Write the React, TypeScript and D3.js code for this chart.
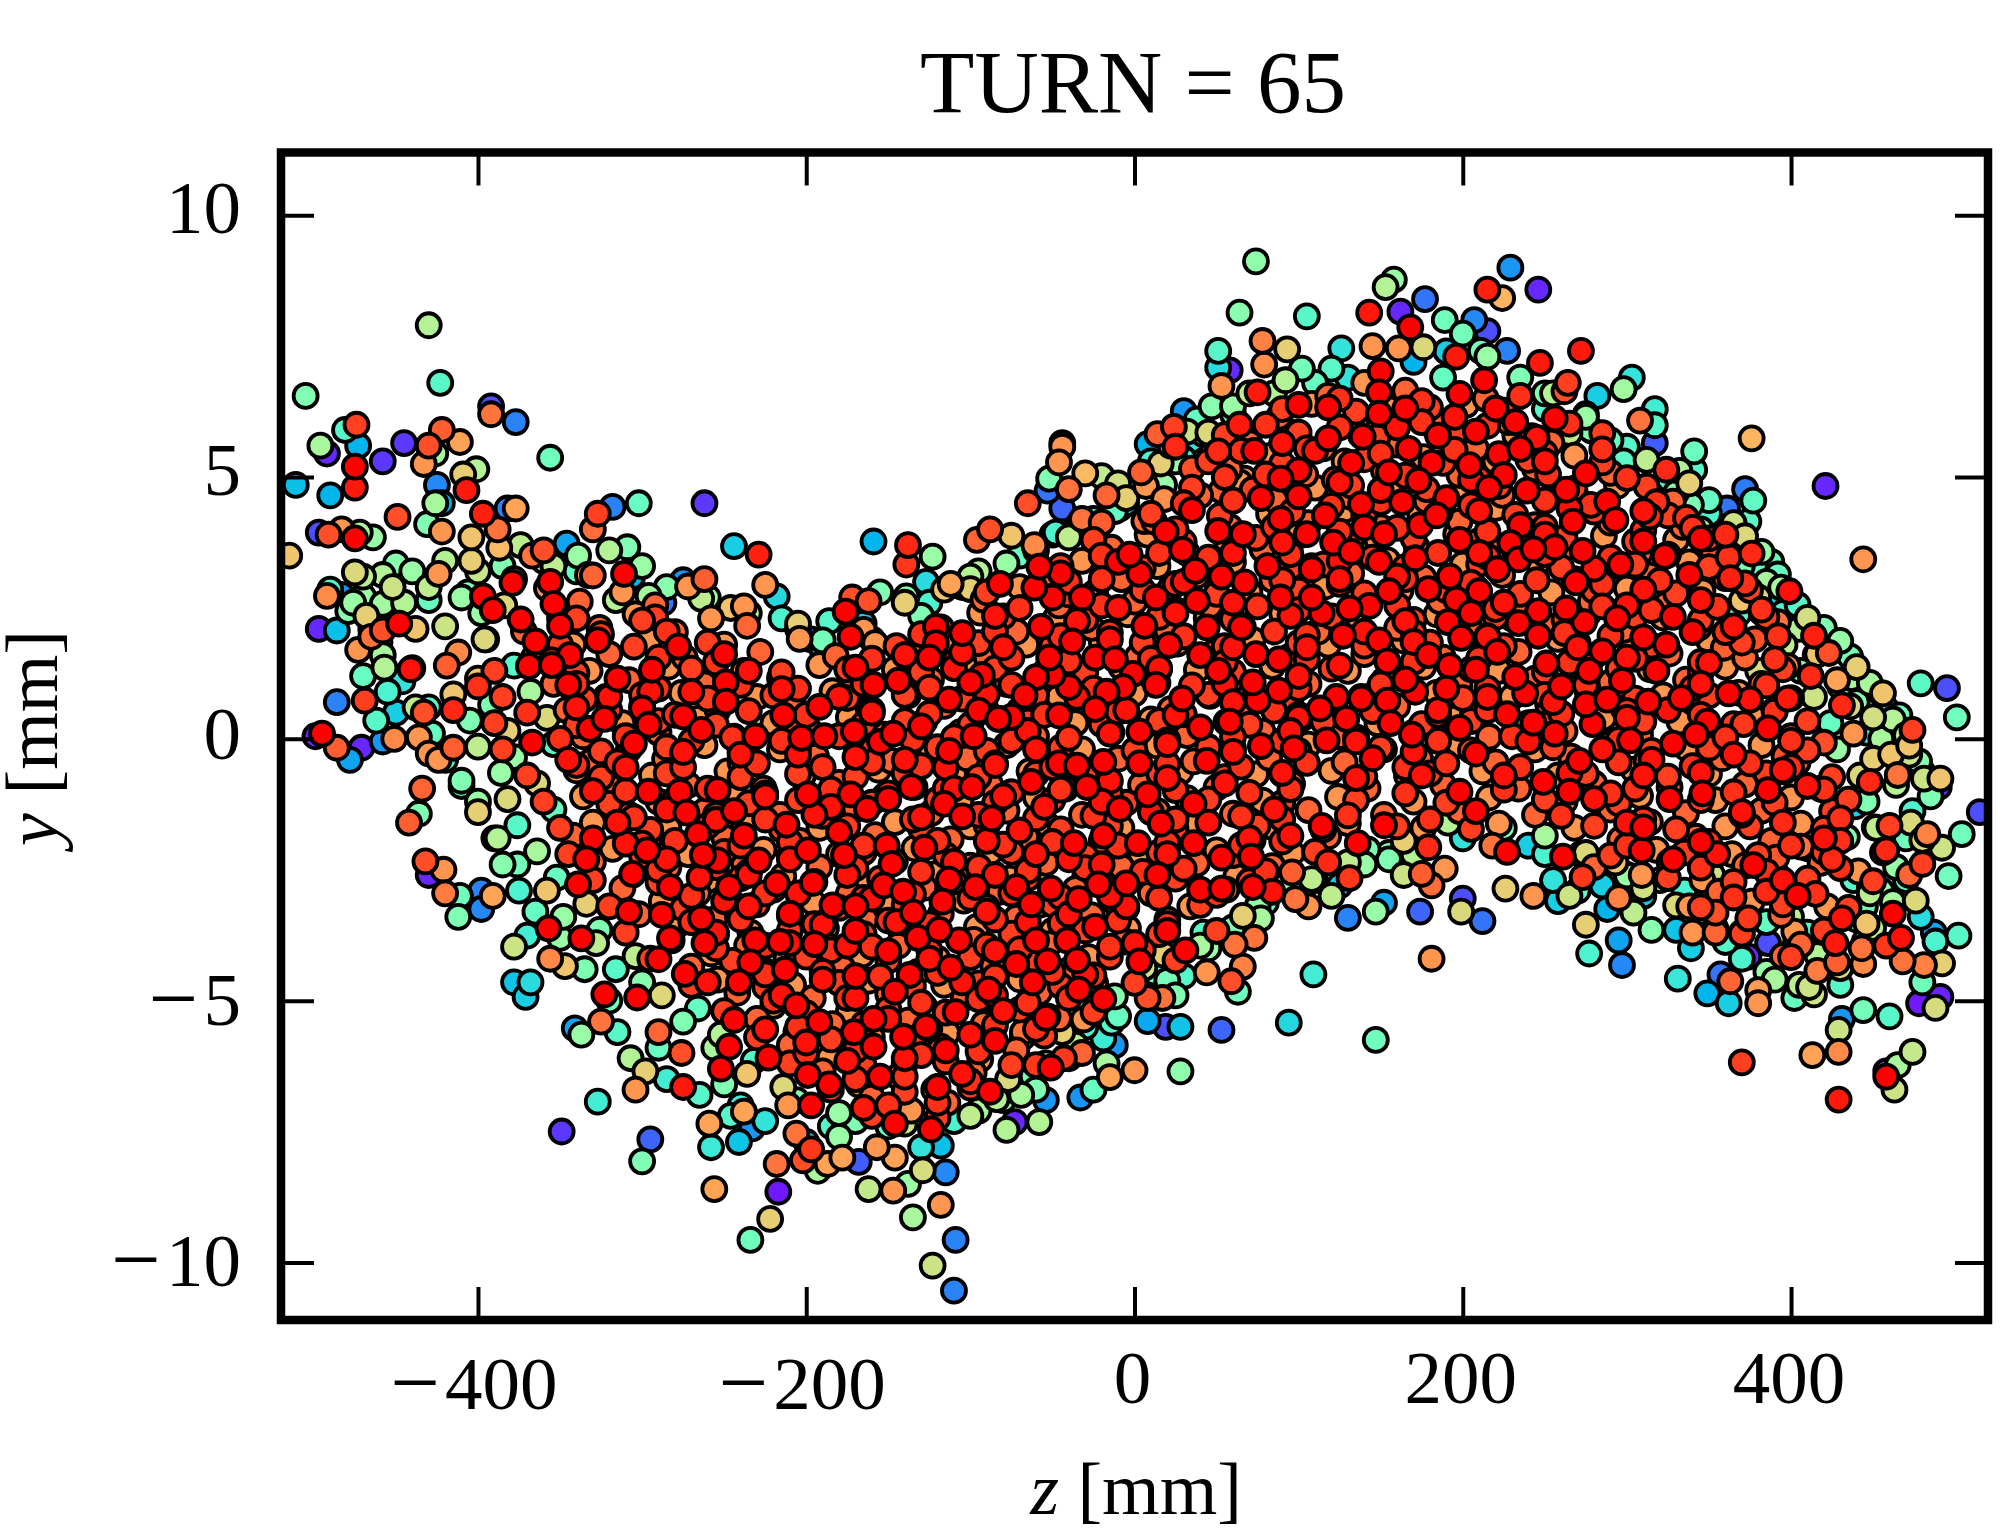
import * as d3 from "d3";
import { useEffect, useRef } from "react";

const zTicks = [-400, -200, 0, 200, 400];
const yTicks = [-10, -5, 0, 5, 10];
const titleText = "TURN = 65";

// z [mm], y [mm], colour value - points that can be told apart at the edge of the cloud
const leftEdge = [
	-430,7.9,.6, -423,6.8,.42, -505,6.55,.5, -392,6.35,.1, -392,6.2,.85, -377,6.05,.17, -356,5.37,.47,
	-474,6.0,.92, -481,5.9,.42, -473,5.6,.25, -496,5.6,.58, -492,5.45,.05, -475,5.2,1, -458,5.3,.07,
	-445,5.65,.07, -430,5.6,.9, -422,5.9,.88, -426,5.45,.57, -411,5.67,.78, -433,5.25,.8, -401,5.15,.6,
	-409,5.05,.7, -426,4.5,.58, -407,4.75,.97, -511,4.85,.27, -490,4.65,.25, -475,4.8,.97, -422,4.5,.25,
	-425,4.85,.18, -382,4.4,.17, -377,4.4,.78, -515,3.5,.72, -497,3.94,.1, -491,3.9,.9, -483,4.0,.8,
	-475,3.83,1, -472,3.94,.58, -464,3.85,.55, -449,4.24,.9, -431,4.1,.5, -422,3.96,.8, -404,3.85,.72,
	-388,4.0,.85, -397,4.3,.96, -374,3.7,.62, -387,3.65,.74, -346,3.73,.22, -360,3.6,.9, -367,3.5,.85,
	-339,3.5,.55, -330,4.0,.86, -327,4.3,.92, -318,4.43,.17, -302,4.5,.45, -262,4.5,.07, -309,3.66,.5,
	-244,3.68,.3, -229,3.52,.96, -159,3.77,.25, -138,3.7,.95, -139,3.33,.93, -123,3.48,.55, -88,4.0,.9,
	-96,3.8,.87, -333,3.13,.8, -311,3.15,1, -306,3.1,.25, -356,3.0,1, -275,3.03,.2, -262,3.05,.88,
	-225,2.94,.8, -218,2.72,.32, -264,2.68,.62, -238,2.53,.8, -246,2.5,.72, -296,2.73,.57, -316,2.65,.6,
	-292,2.32,.92, -287,2.6,.15, -205,2.2,.7, -186,2.25,.42, -197,1.9,.2, -190,1.88,.48, -176,2.43,1,
	-172,2.7,.9, -162,2.63,.9, -155,2.8,.5, -139,2.72,.52, -127,3.0,.33, -112,2.96,.78, -100,2.86,.7,
	-492,2.73,.82, -483,2.75,.2, -470,2.72,.55, -475,3.18,.68, -458,3.13,.6, -458,2.58,.57, -479,2.44,.52,
	-497,2.1,.05, -486,2.07,.27, -448,2.2,1, -458,2.07,.9, -438,2.1,.72, -473,1.7,.8, -465,1.95,.85,
	-457,1.36,.6, -441,1.33,.98, -419,1.4,.88, -486,.7,.17, -469,.73,.92, -462,.35,.42, -450,.5,.3,
	-433,.5,.9, -415,.55,.95, -495,.1,1, -499,.05,.05, -486,-.17,.88, -471,-.17,.05, -478,-.4,.22,
	-458,-.05,.2, -451,0,.82, -436,.03,.8, -415,-.17,.88, -430,-.28,.8
];

const bottomEdge = [
	-434,-.95,.87, -442,-1.6,.88, -436,-1.43,.5, -432,-2.34,.9, -421,-2.5,.8, -430,-2.6,.05, -420,-2.95,.84,
	-411,-3.0,.47, -412,-3.4,.5, -398,-2.9,.17, -398,-3.25,.18, -391,-3.0,.78, -378,-3.97,.65, -356,-4.2,.82,
	-347,-4.34,.72, -370,-3.76,.38, -378,-4.65,.28, -368,-4.65,.33, -371,-4.93,.3, -341,-5.53,.22, -337,-5.65,.55,
	-325,-5.4,.85, -307,-6.1,.6, -298,-6.35,.7, -304,-6.7,.8, -327,-6.93,.38, -349,-7.5,.07, -295,-7.65,.13,
	-300,-8.07,.5, -275,-6.65,.97, -276,-6.0,.9, -290,-5.6,.87, -259,-7.35,.78, -258,-7.8,.37, -238,-7.12,.78,
	-233,-7.44,.2, -241,-7.7,.28, -256,-8.6,.78, -217,-8.65,.03, -222,-9.17,.7, -234,-9.57,.47, -218,-8.12,.85,
	-206,-7.54,.85, -197,-7.84,.93, -202,-8.05,.9, -187,-8.12,.78, -193,-8.25,.58, -168,-8.08,.12, -178,-8.0,.78,
	-162,-8.6,.63, -147,-8.63,.8, -138,-8.5,.55, -129,-8.24,.67, -115,-8.28,.18, -118,-7.77,.27, -118,-8.9,.8,
	-135,-9.14,.58, -109,-9.57,.17, -123,-10.06,.65, -110,-10.54,.17, -124,-7.46,1, -146,-7.35,1, -157,-7.8,.8,
	-146,-8.0,.78, -165,-7.05,.97, -197,-7.0,1, -211,-7.0,.8, -252,-6.3,1, -246,-7.2,.42, -78,-7.47,.6,
	-73,-7.32,.05, -58,-7.32,.6, -69,-6.8,.58, -54,-6.9,.2, -33,-6.85,.2, -25,-6.7,.45, -15,-6.46,.78,
	-17,-6.2,.58, 0,-6.33,.8, 28,-6.35,.53, -51,-6.28,1, -60,-6.23,.93, -43,-6.1,.93, -77,-6.5,.68,
	-32,-6.0,.87, -12,-5.85,.2, -19,-5.72,.37, -31,-5.36,.8, -44,-5.6,.7, -68,-5.6,.85, -53,-5.3,.95,
	8,-5.39,.23, 19,-5.5,.1, 28,-5.5,.28, 53,-5.56,.13, 94,-5.42,.32, 147,-5.75,.47, 109,-4.5,.38,
	8,-4.95,.9, 17,-4.95,.85, 63,-4.83,.47, 59,-4.63,.9, 66,-4.35,.83, 44,-4.46,.8, 30,-4.53,.42,
	12,-4.46,.47, 73,-3.8,.85, 77,-3.43,.58, 61,-3.93,.85, 181,-4.2,.8, 130,-3.42,.17, 147,-3.3,.55,
	152,-3.13,.22, 174,-3.3,.13, 199,-3.3,.68, 200,-3.05,.1, 212,-3.48,.15, 226,-2.86,.7, 243,-3.0,.8,
	265,-3.0,.65, 258,-3.1,.3, 106,-3.2,.8, 120,-3.0,.62, 98,-3.06,.85, 84,-2.92,.98, 131,-2.66,.93,
	118,-2.36,.95, 96,-2.55,.88, 164,-2.6,.65, 175,-2.58,.88, 181,-2.8,.86, 189,-2.48,.8, 155,-2.18,.5,
	179,-2.07,.95, 191,-1.6,.6, 227,-2.16,1, 218,-2.04,.85, 240,-2.04,.3, 261,-2.25,1, 275,-2.18,.68,
	273,-2.64,.93, 255,-2.7,.35
];

const rightEdge = [
	275,-3.55,.7, 277,-4.1,.4, 295,-3.85,.22, 297,-4.32,.18, 288,-3.25,.25, 295,-3.04,.83, 304,-3.32,.62,
	315,-3.65,.52, 310,-3.0,.28, 330,-3.65,.28, 340,-3.7,.8, 338,-3.2,.8, 354,-3.32,.9, 354,-3.7,.87,
	339,-4.0,.3, 331,-4.58,.36, 357,-4.5,.15, 363,-4.63,.87, 349,-4.86,.25, 362,-5.05,.3, 380,-5.05,.8,
	380,-4.8,.79, 390,-4.6,.58, 402,-4.95,.45, 414,-4.88,.65, 411,-4.74,.65, 430,-4.7,.42, 416,-4.43,.84,
	428,-4.27,.88, 427,-3.9,.97, 443,-4.0,.85, 444,-4.3,.82, 467,-3.8,.98, 458,-3.95,.93, 468,-4.25,.85,
	481,-4.32,.83, 492,-4.29,.7, 480,-4.65,.47, 502,-3.76,.42, 488,-3.87,.4, 487,-3.7,.22, 476,-3.09,.68,
	479,-3.4,.33, 462,-3.34,1, 446,-3.53,.72, 431,-3.43,.98, 404,-3.0,1, 385,-2.92,.95, 374,-3.43,.93,
	386,-3.9,.1, 374,-4.16,.05, 395,-4.15,.87, 403,-3.9,.4, 478,-5.05,.03, 491,-4.93,.04, 488,-5.14,.67,
	444,-5.18,.48, 460,-5.3,.42, 431,-5.35,.2, 429,-5.56,.65, 413,-6.04,.78, 429,-5.98,.82, 370,-6.18,.92,
	429,-6.89,.97, 458,-6.35,.1, 458,-6.45,1, 465,-6.23,.58, 474,-5.98,.63, 463,-6.7,.65, 496,-2.62,.47,
	504,-1.82,.47, 515,-1.4,.1, 492,-2.08,.65, 483,-1.82,.83, 473,-1.6,.68, 480,-2.39,.92, 472,-2.6,.87,
	448,-2.83,.6, 441,-2.53,.8, 425,-2.3,.95, 458,-2.13,.95, 451,-1.69,.45, 395,-1.6,.95, 406,-2.06,.85,
	391,-2.27,.89, 377,-2.41,1, 352,-2.6,.65, 352,-2.99,.7, 328,-2.3,1, 309,-2.13,1, 309,-2.6,.8,
	293,-2.36,.72, 310,-1.69,1, 345,-1.97,1, 481,-.76,.65, 491,-.76,.72, 490,-.92,.05, 465,-.69,.85,
	448,-.82,.95, 439,-1.29,.3, 425,-1.38,.92
];

const topEdge = [
	74,9.12,.53, 64,8.14,.52, 105,8.07,.42, 158,8.77,.55, 153,8.63,.6, 143,8.14,.97, 162,8.16,.05,
	177,8.4,.15, 168,7.86,1, 189,8.0,.47, 200,7.74,.48, 207,8.0,.18, 215,7.79,.1, 229,9.0,.2, 246,8.58,.05,
	215,8.58,.96, 224,8.42,.75, 227,7.41,.17, 211,7.41,.48, 196,7.3,.97, 176,7.48,.68, 161,7.46,.8,
	145,7.5,.8, 126,7.46,.35, 120,7.07,.43, 102,7.07,.48, 93,7.44,.7, 78,7.6,.83, 79,7.15,.81, 51,7.41,.42,
	51,7.09,.33, 58,7.04,.05, 53,6.74,.8, 30,6.26,.2, 47,6.35,.52, 272,7.41,.97, 247,7.18,.97, 303,6.9,.35,
	298,6.68,.57, 282,6.55,.3, 264,6.8,.92, 262,6.64,.9, 317,6.3,.38, 308,6.08,.85, 317,5.99,.42, 317,5.65,.12,
	279,5.88,.04, 265,5.84,.63, 376,5.74,.75, 341,5.49,.46, 341,5.14,.42, 298,5.3,.43, 324,5.14,.95,
	372,4.77,.16, 377,4.55,.44, 374,4.15,.43, 361,4.4,.15, 421,4.83,.05, 444,3.43,.8, 328,4.53,.87,
	339,4.47,.5, 336,4.22,.94, 360,3.9,.95, 345,3.82,1, 314,4.25,.95, 376,3.54,.95, 388,3.38,.45, 363,3.07,.96,
	399,2.82,.98, 380,2.7,.67, 382,2.42,.72, 394,2.63,.3, 392,2.23,.85, 397,2.2,.15, 414,1.97,.96, 423,1.64,.9,
	398,1.39,.82, 380,1.3,.67, 378,1.9,.9, 359,1.74,.88, 412,1.2,.95, 437,1.16,.58, 456,.87,.72, 479,1.06,.43,
	495,.97,.1, 501,.41,.47, 450,.41,.66, 466,.45,.47, 474,.17,.92, 431,.64,.95, 438,.1,.8, 461,-.3,.72,
	472,-.3,.65, 398,.77,.97, 371,.28,.93, 386,.2,1, 420,-.07,.9, 396,-.33,.9, -44,5.58,.8, -44,5.65,.1,
	-46,5.28,.8, -52,4.97,.5, -65,4.5,.9, -30,5.07,.74, -20,5.02,.62, -10,4.88,.66, -40,4.77,.85, -53,4.74,.15,
	-44,4.4,.13, -17,4.65,.87, -32,4.2,.85, -20,4.13,.88, -9,4.4,.28, -75,3.88,.72, -61,3.7,.82, -48,3.94,.4,
	6,4.16,.86, 4,5.09,.88, 7,4.83,.8, 16,5.26,.7, 18,4.58,.81, 14,5.82,.88, 24,5.96,.92, 25,5.58,.95,
	8,5.63,.25, 32,5.87,.65, 42,5.82,.4, 51,5.49,.95, 64,6.0,.97, 75,6.62,.97, 73,5.5,1, 35,5.16,.9,
	57,5.2,.8, 67,4.97,.8, 53,4.74,.87
];

const fringePoints = [
	-470,1.2,.45, -455,.9,.4, -445,2.6,.6, -440,3.2,.55, -430,2.9,.62, -420,3.4,.6, -410,2.7,.55, -400,3.2,.64,
	-395,1.9,.58, -385,3.3,.5, -430,.6,.42, -420,-.4,.4, -410,-.8,.5, -400,-1.2,.55, -390,-1.9,.5, -385,-2.4,.52,
	-375,-2.9,.4, -365,-3.3,.45, -350,-3.8,.55, -335,-4.4,.5, -320,-5,.48, -315,-5.6,.42, -290,-5.9,.45,
	-285,-6.5,.38, -265,-6.8,.42, -250,-6.6,.5, -240,-7,.38, -225,-7.3,.35, -200,-7.7,.3, -180,-7.6,.55,
	-170,-7.3,.5, -150,-7.4,.45, -130,-7.8,.35, -110,-7.3,.4, -95,-7.1,.58, -80,-6.9,.55, -60,-6.7,.5,
	-40,-6.1,.52, -30,-5.5,.4, -10,-5.3,.45, 10,-4.9,.45, 25,-4.9,.5, 45,-4,.55, 60,-3.6,.5, 75,-3.2,.55,
	95,-2.9,.55, 110,-2.7,.5, 125,-2.8,.3, 140,-2.4,.55, 155,-2.3,.5, 170,-2.2,.6, 200,-1.9,.35, 225,-1.7,.5,
	250,-2.2,.4, 270,-2.9,.45, 285,-2.8,.3, 300,-2.6,.5, 320,-2.7,.55, 335,-2.9,.4, 345,-3.3,.42, 370,-3.7,.3,
	385,-3.5,.45, 400,-3.4,.62, 410,-3.7,.42, 420,-4.1,.55, 445,-3.2,.48, 455,-2.9,.55, 470,-2.7,.42,
	485,-1.1,.5, 470,-1.9,.47, 465,-.4,.35, 455,0,.58, 440,.7,.5, 430,1,.55, 415,1.6,.5, 405,2.1,.6, 395,2.4,.4,
	385,3,.58, 370,3.3,.5, 355,3.6,.6, 345,4,.62, 330,4.7,.5, 325,4.9,.4, 300,5.4,.42, 290,5.7,.45, 275,6.2,.55,
	255,6.6,.6, 235,6.9,.5, 215,7.3,.55, 190,7.4,.3, 170,7.2,.25, 130,6.9,.35, 110,6.8,.45, 85,6.6,.6, 60,6.2,.45,
	35,5.7,.35, 25,5.3,.55, 10,5.3,.4, -5,4.5,.3, -25,4.2,.42, -50,3.9,.2, -70,3.5,.45, -95,3.2,.6, -105,2.9,.35,
	-125,2.6,.4, -165,2.2,.3, -160,1.9,.55, -190,1.7,.25, -205,2.1,.5, -215,2.3,.4, -235,2.4,.6, -260,2.7,.55,
	-285,2.9,.52, -300,3.3,.55, -320,3.6,.6, -340,3.2,.45, -360,3.4,.5
];

// the outer band of the cloud, where green, teal and yellow still show
const outerBand = [
	70,6.6,.62, 250,6.6,.5, 38,6.1,.45, 275,6.15,.55, 22,5.6,.72, 300,5.58,.42, 12,5.1,.4, 332,5.12,.6, -5,4.6,.7,
	350,4.56,.45, -34,4.1,.5, 365,4.12,.65, -60,3.6,.72, 382,3.57,.55, -470,3.1,.62, -424,3.15,.8, -378,3.05,.72,
	392,3.14,.45, -100,3.1,.6, -476,2.6,.55, -430,2.65,.45, -384,2.55,.68, -140,2.6,.7, 404,2.56,.42, 370,2.64,.72,
	-465,2.1,.38, -420,2.15,.65, -165,2.08,.8, 420,2.12,.5, 390,2.05,.66, -458,1.6,.58, -412,1.65,.82, 436,1.57,.48,
	416,1.62,.72, -446,1.1,.35, -400,1.15,.72, 448,1.07,.58, 428,1.12,.78, -438,.6,.62, -392,.65,.5, 458,.57,.4,
	436,.62,.68, -428,.1,.45, -382,.15,.7, 470,.07,.62, 446,.12,.38, -424,-.4,.8, -378,-.35,.55, 478,-.43,.52,
	450,-.38,.7, -410,-.9,.42, -364,-.85,.68, 464,-.88,.6, -400,-1.4,.7, -354,-1.35,.45, 474,-1.38,.4, 428,-1.45,.66,
	-388,-1.9,.6, 480,-1.93,.68, 434,-1.88,.5, -376,-2.4,.48, 464,-2.45,.55, 164,-1.95,.7, 130,-2.36,.62, 250,-1.85,.58,
	-358,-2.9,.72, 448,-2.95,.62, 102,-2.93,.52, 310,-2.85,.66, -348,-3.4,.55, 440,-3.45,.45, 66,-3.38,.7, 348,-3.42,.38,
	-328,-3.9,.62, 445,-3.86,.5, 40,-3.95,.58, 360,-3.88,.42, -316,-4.4,.42, 430,-4.38,.68, 385,-4.45,.55, 6,-4.37,.66,
	-288,-4.9,.68, -12,-4.92,.52, -275,-5.4,.5, -14,-5.42,.42, -256,-5.9,.58, -36,-5.84,.62, -236,-6.4,.72, -62,-6.45,.48,
	-206,-6.9,.5, -84,-6.88,.6, -185,-7.4,.42, -140,-7.35,.65,
	92,6.85,.6, 188,6.9,.45, 60,6.35,.55, 250,6.3,.42, 45,5.85,.68, 278,5.9,.5, 30,5.35,.38, 312,5.33,.62, 18,4.85,.55,
	338,4.88,.7, -12,4.35,.45, 350,4.3,.4, -40,3.85,.62, 372,3.87,.68, -450,3.35,.52, -404,3.4,.7, -354,3.3,.62,
	-78,3.35,.55, 378,3.32,.45, -490,2.85,.4, -452,2.9,.65, -406,2.8,.5, 394,2.89,.58, -116,2.85,.72, -468,2.35,.7,
	-398,2.4,.55, -130,2.35,.5, 410,2.31,.66, 368,2.39,.42, -460,1.85,.45, -396,1.9,.68, 430,1.87,.55, 396,1.8,.62,
	-440,1.35,.6, -378,1.4,.42, 440,1.37,.7, 406,1.3,.5, -415,.85,.72, -368,.9,.58, 455,.87,.42, 414,.8,.65, -405,.35,.5,
	-358,.4,.68, 462,.37,.6, 424,.3,.45, -400,-.15,.62, -354,-.1,.42, 472,-.13,.72, 428,-.2,.55, -386,-.65,.55,
	480,-.63,.45, 442,-.7,.68, -382,-1.15,.68, 446,-1.2,.5, -376,-1.65,.42, 452,-1.7,.62, -364,-2.15,.58, 456,-2.17,.72,
	142,-2.11,.5, 272,-2.2,.66, -352,-2.65,.45, 438,-2.7,.42, 108,-2.68,.62, 300,-2.61,.55, -334,-3.15,.7, 462,-3.12,.58,
	80,-3.13,.45, 330,-3.18,.68, -326,-3.65,.5, 450,-3.61,.62, 42,-3.7,.42, 354,-3.63,.55, -304,-4.15,.62, 18,-4.12,.7,
	370,-4.2,.4, 416,-4.13,.6, -300,-4.65,.52, 20,-4.62,.48, 405,-4.7,.62, -266,-5.15,.45, -36,-5.09,.68, -252,-5.65,.6,
	-68,-5.7,.5, -232,-6.15,.42, -54,-6.2,.58, -214,-6.65,.68, -78,-6.62,.42, -180,-7.15,.55, -100,-7.2,.62
];

// z, y - orange body of the cloud, colour value .87
const orangeBody = [
	118,6.55, 165,6.65, 214,6.5,
	88,6.15, 135,6.05, 182,6.12, 228,6.05,
	70,5.65, 115,5.55, 160,5.62, 208,5.55, 254,5.66,
	58,5.15, 104,5.05, 152,5.12, 198,5.04, 244,5.16, 290,5.08,
	40,4.65, 86,4.55, 132,4.62, 178,4.55, 224,4.66, 270,4.58, 316,4.62,
	12,4.15, 58,4.05, 106,4.12, 150,4.04, 198,4.15, 244,4.08, 290,4.13, 334,4.05,
	-14,3.65, 32,3.55, 78,3.62, 124,3.55, 172,3.66, 218,3.58, 262,3.63, 308,3.55, 352,3.62,
	-330,3.12, -54,3.15, -8,3.05, 38,3.12, 84,3.04, 132,3.16, 176,3.08, 224,3.13, 268,3.05, 314,3.12, 360,3.07,
	-338,2.62, -292,2.55, -92,2.66, -46,2.55, 0,2.62, 46,2.55, 94,2.65, 140,2.58, 186,2.63, 232,2.55, 278,2.62, 324,2.57,
	-372,2.05, -326,2.12, -280,2.04, -236,2.16, -118,2.13, -72,2.05, -26,2.12, 20,2.07, 66,2.14, 112,2.05, 160,2.12,
	206,2.04, 252,2.15, 298,2.08, 344,2.13,
	-366,1.55, -320,1.62, -274,1.55, -228,1.66, -182,1.58, -136,1.63, -90,1.55, -44,1.62, 2,1.57, 48,1.64, 94,1.56,
	140,1.62, 188,1.55, 234,1.66, 280,1.58, 326,1.63, 372,1.55,
	-354,1.05, -308,1.12, -262,1.04, -216,1.16, -170,1.08, -124,1.13, -78,1.05, -32,1.12, 14,1.07, 60,1.14, 106,1.05,
	152,1.12, 198,1.04, 244,1.15, 290,1.08, 336,1.13, 382,1.05,
	-346,.55, -300,.62, -254,.55, -208,.66, -162,.58, -116,.63, -70,.55, -24,.62, 22,.57, 68,.64, 114,.55, 160,.62,
	206,.55, 252,.66, 298,.58, 344,.63, 390,.55,
	-336,.05, -290,.12, -244,.04, -198,.16, -152,.08, -106,.13, -60,.05, -14,.12, 32,.07, 78,.14, 124,.05, 170,.12,
	216,.04, 262,.15, 308,.08, 354,.13, 400,.05,
	-332,-.45, -286,-.38, -240,-.45, -194,-.34, -148,-.42, -102,-.37, -56,-.45, -10,-.38, 36,-.43, 82,-.36, 128,-.45,
	174,-.38, 220,-.45, 266,-.34, 312,-.42, 358,-.37, 404,-.45,
	-318,-.95, -272,-.88, -226,-.95, -180,-.84, -134,-.92, -88,-.87, -42,-.95, 4,-.88, 50,-.93, 96,-.86, 142,-.95,
	188,-.88, 234,-.95, 280,-.85, 326,-.92, 372,-.87, 418,-.95,
	-308,-1.45, -262,-1.38, -216,-1.45, -170,-1.34, -124,-1.42, -78,-1.37, -32,-1.45, 14,-1.38, 60,-1.43, 106,-1.36,
	152,-1.45, 198,-1.38, 244,-1.45, 290,-1.35, 336,-1.42, 382,-1.37,
	-342,-1.85, -296,-1.95, -250,-1.88, -204,-1.95, -158,-1.84, -112,-1.92, -66,-1.87, -20,-1.95, 26,-1.88, 72,-1.93,
	118,-1.86, 296,-1.92, 342,-1.87, 388,-1.95,
	-330,-2.35, -284,-2.45, -238,-2.38, -192,-2.45, -146,-2.34, -100,-2.42, -54,-2.37, -8,-2.45, 38,-2.38, 84,-2.43,
	280,-2.45, 326,-2.35, 372,-2.42, 418,-2.37,
	-312,-2.85, -266,-2.95, -220,-2.88, -174,-2.95, -128,-2.84, -82,-2.92, -36,-2.87, 10,-2.95, 56,-2.88, 356,-2.92,
	402,-2.87,
	-302,-3.35, -256,-3.45, -210,-3.38, -164,-3.45, -118,-3.34, -72,-3.42, -26,-3.37, 20,-3.45, 394,-3.36,
	-282,-3.85, -236,-3.95, -190,-3.88, -144,-3.95, -98,-3.84, -52,-3.92, -6,-3.87, 406,-3.93,
	-270,-4.35, -224,-4.45, -178,-4.38, -132,-4.45, -86,-4.34, -40,-4.42,
	-242,-4.85, -196,-4.95, -150,-4.88, -104,-4.95, -58,-4.84,
	-230,-5.35, -184,-5.45, -138,-5.38, -92,-5.45, -46,-5.34,
	-210,-5.85, -164,-5.95, -118,-5.88, -72,-5.95,
	-190,-6.35, -144,-6.45, -98,-6.38,
	-160,-6.85, -114,-6.95
];

// z, y - pale orange points between them, colour value .8
const paleBody = [
	140,6.8,
	108,6.4, 155,6.3, 202,6.38,
	92,5.9, 138,5.8, 184,5.88, 232,5.8,
	82,5.4, 128,5.3, 176,5.38, 220,5.3, 268,5.41,
	64,4.9, 110,4.8, 156,4.88, 202,4.8, 248,4.91, 294,4.83,
	34,4.4, 82,4.3, 128,4.38, 174,4.3, 220,4.41, 268,4.33, 312,4.38,
	8,3.9, 56,3.8, 100,3.88, 148,3.8, 196,3.91, 240,3.83, 286,3.88, 330,3.8,
	-32,3.4, 14,3.3, 60,3.38, 108,3.3, 154,3.41, 200,3.33, 246,3.38, 292,3.3, 338,3.37,
	-358,2.88, -312,2.8, -272,2.91, -70,2.9, -24,2.8, 22,2.88, 70,2.8, 116,2.91, 162,2.83, 208,2.88, 254,2.8, 300,2.87, 346,2.82,
	-350,2.3, -304,2.38, -258,2.3, -94,2.41, -48,2.3, -4,2.38, 44,2.3, 90,2.4, 136,2.33, 184,2.38, 230,2.3, 276,2.37, 322,2.32,
	-342,1.8, -296,1.88, -250,1.8, -204,1.91, -158,1.83, -112,1.88, -66,1.8, -20,1.87, 26,1.82, 72,1.89, 118,1.8,
	164,1.88, 212,1.8, 258,1.91, 304,1.83, 350,1.88,
	-332,1.3, -284,1.38, -238,1.3, -192,1.41, -146,1.33, -100,1.38, -54,1.3, -8,1.37, 38,1.32, 84,1.39, 130,1.3,
	176,1.38, 222,1.3, 268,1.41, 314,1.33, 360,1.38,
	-322,.8, -276,.88, -230,.8, -184,.91, -138,.83, -92,.88, -46,.8, 0,.87, 46,.82, 92,.89, 138,.8, 184,.88, 230,.8,
	276,.91, 322,.83, 368,.88,
	-312,.3, -266,.38, -220,.3, -174,.41, -128,.33, -82,.38, -36,.3, 10,.37, 56,.32, 102,.39, 148,.3, 194,.38, 240,.3,
	286,.41, 332,.33, 378,.38,
	-308,-.2, -262,-.12, -216,-.2, -170,-.09, -124,-.17, -78,-.12, -32,-.2, 14,-.13, 60,-.18, 106,-.11, 152,-.2, 198,-.12,
	244,-.2, 290,-.09, 336,-.17, 382,-.12,
	-340,-.6, -294,-.7, -248,-.62, -202,-.7, -156,-.59, -110,-.67, -64,-.62, -18,-.7, 28,-.63, 74,-.68, 120,-.61, 166,-.7,
	212,-.62, 258,-.7, 304,-.59, 350,-.67, 396,-.62,
	-336,-1.1, -290,-1.2, -244,-1.12, -198,-1.2, -152,-1.09, -106,-1.17, -60,-1.12, -14,-1.2, 32,-1.13, 78,-1.18, 124,-1.11,
	170,-1.2, 216,-1.12, 262,-1.2, 308,-1.09, 354,-1.17, 400,-1.12,
	-330,-1.6, -284,-1.7, -238,-1.62, -192,-1.7, -146,-1.59, -100,-1.67, -54,-1.62, -8,-1.7, 38,-1.63, 84,-1.68, 130,-1.61,
	176,-1.7, 222,-1.62, 268,-1.7, 314,-1.59, 360,-1.67, 406,-1.62,
	-318,-2.1, -272,-2.2, -226,-2.12, -180,-2.2, -134,-2.09, -88,-2.17, -42,-2.12, 4,-2.2, 50,-2.13, 96,-2.18, 318,-2.12,
	364,-2.2, 410,-2.09,
	-306,-2.6, -260,-2.7, -214,-2.62, -168,-2.7, -122,-2.59, -76,-2.67, -30,-2.62, 16,-2.7, 62,-2.63, 346,-2.7, 392,-2.62,
	-288,-3.1, -242,-3.2, -196,-3.12, -150,-3.2, -104,-3.09, -58,-3.17, -12,-3.12, 34,-3.2, 376,-3.11, 422,-3.2,
	-280,-3.6, -234,-3.7, -188,-3.62, -142,-3.7, -96,-3.59, -50,-3.67, -4,-3.62, 402,-3.68,
	-258,-4.1, -212,-4.2, -166,-4.12, -120,-4.2, -74,-4.09, -28,-4.17,
	-254,-4.6, -208,-4.7, -162,-4.62, -116,-4.7, -70,-4.59, -24,-4.67,
	-220,-5.1, -174,-5.2, -128,-5.12, -82,-5.2,
	-206,-5.6, -160,-5.7, -114,-5.62,
	-186,-6.1, -140,-6.2, -94,-6.12,
	-168,-6.6, -122,-6.7,
	-136,-7.1
];

// z, y - darker orange points that close the gaps, colour value .92
const deepBody = [
	90,6.3, 135,6.25, 180,6.33, 225,6.27,
	55,5.8, 100,5.85, 148,5.76, 195,5.83, 242,5.78, 285,5.84,
	45,5.3, 90,5.26, 140,5.34, 188,5.27, 240,5.33, 285,5.28,
	35,4.8, 72,4.76, 132,4.84, 178,4.77, 222,4.83, 268,4.78, 312,4.82,
	10,4.3, 52,4.26, 96,4.34, 140,4.27, 186,4.33, 232,4.28, 280,4.34, 325,4.27,
	-25,3.8, 30,3.76, 74,3.84, 132,3.77, 170,3.83, 210,3.78, 262,3.84, 305,3.77, 350,3.83,
	-45,3.3, 5,3.26, 40,3.34, 95,3.27, 115,3.33, 165,3.28, 210,3.34, 260,3.27, 305,3.33, 350,3.28,
	-90,2.8, -40,2.76, 5,2.84, 50,2.77, 100,2.83, 140,2.78, 190,2.84, 235,2.77, 280,2.83, 330,2.78, 375,2.84,
	-340,2.3, -300,2.26, -80,2.34, -30,2.27, 15,2.33, 60,2.28, 120,2.34, 170,2.27, 220,2.33, 262,2.28, 305,2.34, 345,2.27, 385,2.33,
	-350,1.8, -305,1.76, -260,1.84, -145,1.77, -95,1.83, -50,1.78, 5,1.84, 55,1.77, 100,1.83, 140,1.78, 180,1.84, 225,1.77,
	270,1.83, 315,1.78, 370,1.84,
	-390,1.3, -340,1.26, -270,1.34, -215,1.27, -175,1.33, -130,1.28, -85,1.34, -30,1.27, 15,1.33, 60,1.28, 120,1.34, 160,1.27,
	205,1.33, 250,1.28, 295,1.34, 345,1.27, 395,1.33,
	-385,.8, -335,.76, -300,.84, -260,.77, -220,.83, -175,.78, -140,.84, -105,.77, -60,.83, -10,.78, 45,.84, 95,.77, 145,.83,
	200,.78, 250,.84, 305,.77, 350,.83, 400,.78,
	-390,.3, -340,.26, -290,.34, -255,.27, -210,.33, -165,.28, -140,.34, -100,.27, -65,.33, -20,.28, 15,.34, 70,.27, 115,.33,
	175,.28, 205,.34, 250,.27, 310,.33, 365,.28, 410,.34,
	-385,-.2, -325,-.24, -285,-.16, -240,-.23, -205,-.17, -160,-.22, -120,-.16, -90,-.23, -45,-.17, 0,-.22, 45,-.16, 100,-.23,
	150,-.17, 205,-.22, 255,-.16, 315,-.23, 350,-.17, 410,-.22,
	-370,-.7, -325,-.74, -285,-.66, -240,-.73, -205,-.67, -170,-.72, -140,-.66, -95,-.73, -60,-.67, -30,-.72, 15,-.66, 55,-.73,
	90,-.67, 140,-.72, 180,-.66, 225,-.73, 275,-.67, 325,-.72, 385,-.66, 425,-.73,
	-360,-1.2, -320,-1.24, -280,-1.16, -235,-1.23, -205,-1.17, -160,-1.22, -120,-1.16, -85,-1.23, -50,-1.17, -5,-1.22, 45,-1.16,
	90,-1.23, 135,-1.17, 190,-1.22, 250,-1.16, 295,-1.23, 345,-1.17, 390,-1.22, 435,-1.16,
	-350,-1.7, -295,-1.74, -260,-1.66, -215,-1.73, -175,-1.67, -130,-1.72, -90,-1.66, -45,-1.73, -15,-1.67, 25,-1.72, 75,-1.66,
	115,-1.73, 160,-1.67, 205,-1.72, 280,-1.66, 330,-1.73, 375,-1.67, 420,-1.72, 460,-1.66,
	-345,-2.2, -300,-2.24, -250,-2.16, -210,-2.23, -165,-2.17, -115,-2.22, -75,-2.16, -30,-2.23, 15,-2.17, 60,-2.22, 110,-2.16,
	290,-2.23, 335,-2.17, 380,-2.22, 420,-2.16,
	-330,-2.7, -290,-2.74, -240,-2.66, -195,-2.73, -155,-2.67, -110,-2.72, -65,-2.66, -20,-2.73, 25,-2.67, 70,-2.72, 325,-2.66,
	365,-2.73, 410,-2.67, 450,-2.72,
	-320,-3.2, -275,-3.24, -230,-3.16, -180,-3.23, -140,-3.17, -90,-3.22, -50,-3.16, -5,-3.23, 40,-3.17, 345,-3.22, 395,-3.16, 435,-3.23,
	-310,-3.7, -255,-3.74, -210,-3.66, -165,-3.73, -125,-3.67, -75,-3.72, -30,-3.66, 15,-3.73, 50,-3.67, 370,-3.72, 420,-3.66,
	-295,-4.2, -245,-4.24, -200,-4.16, -150,-4.23, -100,-4.17, -60,-4.22, -15,-4.16, 25,-4.23, 400,-4.17,
	-270,-4.7, -225,-4.74, -180,-4.66, -135,-4.73, -95,-4.67, -45,-4.72, 0,-4.66,
	-250,-5.2, -200,-5.24, -150,-5.16, -115,-5.23, -70,-5.17, -25,-5.22,
	-230,-5.7, -185,-5.74, -130,-5.66, -95,-5.73, -55,-5.67,
	-210,-6.2, -165,-6.24, -115,-6.16, -75,-6.23,
	-185,-6.7, -140,-6.74, -100,-6.66,
	-160,-7.2, -120,-7.24
];

// z, y - orange-red points in the core, colour value .94
const redOrangeCore = [
	125,6.5, 175,6.45, 235,6.55,
	80,6, 125,5.95, 175,6.05, 215,5.98, 265,6.02,
	65,5.5, 105,5.55, 150,5.45, 195,5.52, 250,5.46, 285,5.53,
	55,5, 80,5.05, 122,4.95, 165,5.03, 210,4.96, 252,5.05, 300,4.98,
	30,4.5, 60,4.55, 120,4.45, 150,4.52, 205,4.46, 250,4.55, 278,4.47, 318,4.52,
	25,4, 85,4.05, 125,3.96, 160,4.03, 215,3.96, 250,4.05, 310,3.98, 340,4.03,
	-20,3.5, 15,3.55, 45,3.46, 95,3.53, 145,3.46, 185,3.55, 215,3.48, 250,3.53, 290,3.46, 325,3.52, 362,3.47,
	-40,3, -20,3.05, 25,2.96, 90,3.03, 125,2.96, 165,3.05, 205,2.98, 245,3.03, 285,2.96, 320,3.02, 372,2.97,
	-70,2.5, -20,2.55, 25,2.46, 75,2.53, 100,2.46, 160,2.55, 220,2.48, 285,2.53, 315,2.46, 355,2.52, 382,2.47,
	-325,2, -285,2.05, -130,2, -85,2.05, -45,1.96, -15,2.03, 30,1.96, 85,2.05, 105,1.98, 170,2.03, 215,1.96, 262,2.02,
	290,1.97, 360,2.04, 392,1.96,
	-355,1.5, -290,1.55, -255,1.46, -160,1.53, -110,1.46, -75,1.55, -40,1.48, 10,1.53, 55,1.46, 105,1.52, 170,1.47,
	210,1.54, 265,1.46, 305,1.53, 345,1.47, 390,1.52,
	-400,1, -340,1.05, -290,.96, -240,1.03, -205,.96, -165,1.05, -125,.98, -75,1.03, -25,.96, 35,1.02, 100,.97,
	150,1.04, 215,.96, 275,1.03, 340,.97, 385,1.02,
	-370,.5, -320,.55, -280,.46, -235,.53, -200,.46, -160,.55, -125,.48, -90,.53, -55,.46, -10,.52, 30,.47, 85,.54,
	100,.46, 145,.53, 185,.46, 215,.55, 260,.48, 300,.53, 345,.46, 390,.52,
	-350,0, -310,.05, -270,-.04, -245,.03, -215,-.04, -180,.05, -135,-.02, -110,.03, -75,-.04, -40,.02, 20,-.03,
	60,.04, 90,-.04, 135,.03, 185,-.04, 230,.05, 295,-.02, 360,.03, 400,-.04,
	-340,-.5, -315,-.45, -275,-.54, -230,-.47, -190,-.54, -160,-.45, -130,-.52, -85,-.47, -50,-.54, 20,-.48, 65,-.53,
	105,-.46, 165,-.54, 190,-.47, 235,-.54, 295,-.45, 340,-.52, 375,-.47, 400,-.54,
	-310,-1, -260,-.95, -225,-1.04, -185,-.97, -150,-1.04, -115,-.95, -75,-1.02, -45,-.97, -15,-1.04, 25,-.98,
	70,-1.03, 95,-.96, 165,-1.04, 225,-.97, 290,-1.04, 305,-.95, 365,-1.02, 420,-.97,
	-305,-1.5, -255,-1.45, -225,-1.54, -190,-1.47, -135,-1.54, -95,-1.45, -60,-1.52, -25,-1.47, 25,-1.54, 65,-1.48,
	90,-1.53, 130,-1.46, 180,-1.54, 260,-1.47, 310,-1.54, 370,-1.45, 430,-1.52,
	-300,-2, -280,-1.95, -240,-2.04, -210,-1.97, -165,-2.04, -120,-1.95, -80,-2.02, -50,-1.97, -10,-2.04, 20,-1.98,
	65,-2.03, 90,-1.96, 300,-2.04, 350,-1.97, 400,-2.04, 430,-1.95,
	-290,-2.5, -255,-2.45, -235,-2.54, -170,-2.47, -130,-2.54, -95,-2.45, -65,-2.52, -30,-2.47, 5,-2.54, 30,-2.48,
	80,-2.53, 345,-2.46, 385,-2.54, 430,-2.47,
	-270,-3, -225,-2.95, -165,-3.04, -135,-2.97, -100,-3.04, -75,-2.95, -45,-3.02, -10,-2.97, 15,-3.04, 50,-2.98,
	365,-3.03, 415,-2.96,
	-270,-3.5, -240,-3.45, -195,-3.54, -150,-3.47, -125,-3.54, -85,-3.45, -45,-3.52, -10,-3.47, 20,-3.54,
	-255,-4, -225,-3.95, -185,-4.04, -160,-3.97, -125,-4.04, -90,-3.95, -70,-4.02, -15,-3.97, 5,-4.04,
	-225,-4.5, -190,-4.45, -155,-4.54, -120,-4.47, -85,-4.54, -50,-4.45, -25,-4.52,
	-220,-5, -175,-4.95, -130,-5.04, -95,-4.97, -65,-5.04, -40,-4.95,
	-205,-5.5, -165,-5.45, -125,-5.54, -85,-5.47, -60,-5.54,
	-200,-6, -170,-5.95, -130,-6.04, -95,-5.97,
	-170,-6.5, -140,-6.45, -100,-6.54,
	-150,-7, -120,-6.95
];

// z, y - near-red points between the reds, colour value .98
const nearRed = [
	110,5.5, 160,5.95, 195,6.15, 245,5.75, 90,5.65, 125,4.9, 150,4.75, 205,4.95, 250,5.3, 265,4.4, 310,4.35, 250,3.9,
	210,4.35, 125,3.4, 90,3.75, 60,3.55, 30,3, 60,2.6, 95,2.35, 125,3.05, 160,3.1, 210,3.55, 280,3.25, 310,2.85, 345,2.65,
	365,2.15, 300,2.55, 225,2.6, 165,2.25, 140,2.05, 105,1.75, 60,1.75, 25,2.4, -10,2.5, -15,1.9, -35,2.25, 15,1.35, 55,1.05,
	100,1.2, 125,1.4, 170,1.85, 215,1.95, 270,1.75, 300,1.55, 350,1.45, 345,1.05, 375,.75, 325,.55, 300,.4, 255,.7, 215,.8,
	185,.55, 100,.4, 60,.7, 25,.45, -5,.55, -35,.8, -65,.15, -90,.85, -110,1.35, -140,1.6, -160,.5, -180,.8, -215,.95, -235,1.3,
	-270,.9, -295,.9, -320,.8, -340,.6, -80,1.75, -85,2.35, -105,1.65,
	-15,.1, 20,-.1, 60,-.25, 95,.15, 135,-.05, 170,-.25, 240,-.05, 285,-.2, 315,-.4, 365,-.3, 395,-.6, 345,-.65, 265,-.65, 225,-.7,
	175,-.7, 135,-.75, 90,-.65, 55,-.85, 20,-.75, -15,-.8, -60,-.2, -85,-.5, -115,-.55, -140,-.4, -170,-.35, -205,-.3, -240,-.3,
	-275,-.25, -310,-.55, -345,-.4, -330,-1, -285,-1.35, -255,-1.55, -225,-1.1, -185,-1.3, -130,-1.5, -80,-1.1, -55,-1.3, -20,-1.2,
	10,-1.4, 45,-1.6, 85,-1.35, 95,-1.85, 70,-1.9, 20,-2.2, -20,-2.4, -60,-2.2, -90,-1.95, -110,-2.35, -175,-2.6, -210,-2.3,
	-235,-2.6, -265,-2.65, -310,-2, -90,-3.3, -65,-3.5, -85,-2.6, -40,-3.35, -5,-3.2, -160,-3.05, -205,-2.95, -235,-3.2, -255,-3.7,
	-190,-3.55, -145,-3.5, -175,-3.95, -125,-4.2, -85,-4.05, -105,-4.65, -85,-4.9, -170,-4.95, -190,-4.6, -215,-4.9, -260,-4.65,
	-225,-5.55, -200,-5.8, -175,-6.15, -140,-6.1, -100,-5.65, -80,-5.2, -105,-6.4, -210,-3.9, -250,-3.1, -285,-2.3, -315,-1.6,
	-195,-1.45, -110,-.95, -70,-1.75, -40,-2.3, -15,-3, 0,-3.9, -30,-4.5, -150,-5.35, 310,-.7, 280,-1.15, 370,-1.4, 410,-.9,
	420,-1.9, 355,-2.2, 300,-1.6, 395,-2.7
];

// z, y - the pure red points on top, colour value 1
const redTop = [
	100,6.38, 118,6.33, 150,7.02, 149,6.62, 149,6.21, 165,6.31, 198,6.59, 213,6.85, 220,6.31, 232,6.05, 208,5.87,
	256,6.12, 118,5.74, 139,5.77, 132,5.27, 155,5.09, 167,5.54, 185,5.79, 181,5.27, 204,5.23, 222,5.44, 235,5.54,
	225,5.04, 239,4.74, 263,4.76, 275,5.07, 288,4.53, 293,4.18, 310,3.77, 267,4.15, 235,4.08, 216,4.79, 190,4.6,
	173,4.93, 163,4.52, 138,4.48, 116,4.27, 100,4.63, 77,4.6, 100,5.13, 89,4.97, 35,4.37, 19,3.96, 51,3.97, 66,3.91,
	89,4.2, 105,3.91, 121,3.75, 140,4.04, 152,3.91, 174,4.08, 184,4.27, 198,3.8, 229,3.74, 234,3.43, 256,3.66,
	273,3.59, 296,3.33, 323,3.49, 338,3.13, 328,2.33, 340,2.04, 310,1.94, 324,1.8, 294,2.3, 274,2.23, 246,2.44,
	234,2.21, 246,1.97, 263,2.49, 269,2.99, 243,3.62, 221,3.24, 210,2.82, 196,2.66, 205,2.4, 191,2.23, 199,1.93,
	179,2.86, 155,2.82, 143,2.54, 131,2.49, 114,2.4, 108,2.7, 89,2.7, 67,2.99, 53,3.1, 37,3.21, 13,2.7, 38,2.63,
	3,3.15, -10,3.38, -3,3.52, 29,3.61, 81,3.3, 108,3.24, 132,3.57, 149,3.38, 171,3.45, 192,3.1, 6,2.16, 44,2.13,
	65,2.13, 21,1.79, 40,1.6, 74,1.62, 88,1.52, 127,1.97, 149,1.88, 154,1.48, 179,1.6, 192,1.39, 221,1.66, 251,1.44,
	277,1.3, 285,1.67, 297,1.11, 318,1.3, 260,1, 238,.87, 232,1.18, 208,1.32, 190,.96, 171,.9, 165,1.13, 154,.73,
	138,.77, 123,.8, 113,.58, 88,.92, 75,.73, 72,1.08, 51,1.3, 29,.77, 13,1.03, -1,1.24, -7,.99, -17,.9, -24,1.55,
	-12,1.52, -38,1.86, -57,2.14, -32,2.7, -50,2.7, -61,2.89, -45,3.16, -58,3.29, -82,2.96, -40,.99, -50,1.22,
	-60,1.18, -52,1.55, -67,.83, -46,.45, -75,.42, -24,.57, 3,.14, 40,.22, 58,.33, 129,.38, 156,.3, 169,.08, 198,.21,
	227,.47, 243,.31, 256,.1, 279,.28, 313,.71, 333,.78, 349,.33, 362,.87, 275,.66, 288,.75, 77,-.14, 97,-.18,
	117,-.03, 145,-.37, 208,-.28, 271,-.42, 328,-.09, 342,.08, 302,-.03, -46,-.47, 3,-.47, 44,-.42, -35,-.51, -19,-.44,
	-63,-.82, -29,-.92, 8,-1.06, 36,-1.24, -9,-1.34, 16,-1.62, -19,-1.85, -37,-1.99, 2,-1.99, 36,-1.99, 53,-2.27,
	71,-2.25, 14,-2.6, -5,-2.76, -22,-2.78, -51,-2.86, -72,-2.83, -34,-3.06, 40,-2.88, 53,-2.86, 72,-2.83, -63,-3.16,
	-24,-3.59, -41,-3.85, -60,-3.85, 20,-3.67, 31,-4.04, -35,-4.23, -72,-4.3, -53,-4.25, 3,-4.25, -62,-4.65, -34,-4.79,
	-19,-4.97, -54,-5.33, 114,-1.66, 136,-1.99, 152,-1.65, 198,-1.01, 208,-1.38, 249,-.82, 265,-1.01, 326,-1.15,
	346,-1.04, 386,-.98,
	-397,2.72, -391,2.46, -379,2.98, -374,2.28, -354,2.58, -350,2.16, -365,1.86, -344,1.6, -369,1.39, -355,1.41,
	-345,1.03, -327,1.88, -315,1.15, -294,1.32, -278,1.76, -250,1.62, -249,1.08, -249,.71, -275,.43, -300,.58, -296,.27,
	-332,.19, -305,-.09, -264,.17, -231,.05, -203,.02, -192,.61, -170,1.36, -159,1.03, -144,1.11, -121,2.14, -121,1.83,
	-105,2.02, -125,1.55, -93,1.22, -100,1.08, -95,.54, -83,.38, -214,.45, -171,.14, -155,-.06, -147,.1, -130,.24,
	-113,-.23, -98,.05, -113,.75, -173,1.95, -189,.05, -323,.38, -367,-.07,
	-296,-1.01, -277,-1.01, -254,-.98, -273,-1.41, -244,-1.38, -212,-1.64, -238,-1.85, -266,-1.82, -199,-1.06, -173,-1.06,
	-163,-1.34, -150,-1.15, -136,-.92, -116,-1.24, -99,-.92, -105,-1.48, -87,-1.52, -180,-1.78, -151,-2.04, -128,-2.08,
	-199,-2.13, -177,-2.22, -148,-2.39, -254,-2.32, -229,-2.32, -263,-2.22, -297,-2.13, -330,-1.9, -334,-2.3, -339,-2.78,
	-306,-2.58, -283,-2.83, -247,-2.83, -218,-2.76, -196,-2.75, -113,-2.69, -153,-2.8, -141,-2.92, -97,-2.83, -184,-3.18,
	-170,-3.2, -117,-3.11, -135,-3.32, -308,-3.3, -288,-3.36, -264,-3.43, -210,-3.34, -170,-3.67, -231,-3.85, -216,-3.88,
	-195,-3.92, -132,-3.8, -107,-3.85, -119,-3.65, -150,-4.06, -283,-3.81, -262,-3.9, -337,-3.81, -290,-4.21, -274,-4.49,
	-234,-4.27, -170,-4.53, -137,-4.51, -241,-4.65, -213,-4.41, -303,-4.94, -323,-4.88, -206,-5.09, -146,-4.83, -109,-5.22,
	-127,-5.5, -159,-5.35, -192,-5.41, -244,-5.37, -171,-5.6, -141,-5.69, -85,-5.77, -115,-5.95, -247,-5.88, -223,-6.09,
	-159,-5.88, -186,-6.6, -199,-6.42, -155,-6.45, -120,-6.65, -88,-6.74, -357,-3.62, -112,-4.37, -89,-4.79
];

const tripletPoints = (flat: number[]) =>
	d3.range(0, flat.length, 3).map((i) => ({ z: flat[i], y: flat[i + 1], c: flat[i + 2] }));

const pairPoints = (flat: number[], c: number) =>
	d3.range(0, flat.length, 2).map((i) => ({ z: flat[i], y: flat[i + 1], c }));

// same curves as matplotlib's "rainbow" map
const rainbow = (t: number) =>
	d3.rgb(
		255 * Math.abs(2 * t - 0.5),
		255 * Math.sin(Math.PI * t),
		255 * Math.cos((Math.PI * t) / 2)
	).toString();

export default function App() {
	const svgRef = useRef<SVGSVGElement | null>(null);

	useEffect(() => {
		const left = 281, right = 1988, top = 152.5, bottom = 1320;
		const fontFamily = "'Liberation Serif', serif";
		const tickFont = 75;

		const x = d3.scaleLinear().domain([-520, 520]).range([left, right]);
		const y = d3.scaleLinear().domain([-11.1, 11.2]).range([bottom, top]);
		const color = d3.scaleSequential(rainbow).domain([0, 1]);

		const svg = d3.select(svgRef.current);
		svg.selectAll("*").remove();

		const points = [
			...tripletPoints(leftEdge),
			...tripletPoints(bottomEdge),
			...tripletPoints(rightEdge),
			...tripletPoints(topEdge),
			...tripletPoints(fringePoints),
			...tripletPoints(outerBand),
			...pairPoints(paleBody, 0.8),
			...pairPoints(orangeBody, 0.87),
			...pairPoints(deepBody, 0.92),
			...pairPoints(redOrangeCore, 0.94),
			...pairPoints(nearRed, 0.98),
			...pairPoints(redTop, 1),
		].sort((a, b) => d3.ascending(a.c, b.c));

		svg.append("clipPath")
			.attr("id", "plot-area")
			.append("rect")
			.attr("x", left)
			.attr("y", top)
			.attr("width", right - left)
			.attr("height", bottom - top);

		svg.append("g")
			.attr("clip-path", "url(#plot-area)")
			.selectAll("circle")
			.data(points)
			.enter()
			.append("circle")
			.attr("cx", (d) => x(d.z))
			.attr("cy", (d) => y(d.y))
			.attr("r", 12)
			.attr("fill", (d) => color(d.c))
			.attr("stroke", "#000")
			.attr("stroke-width", 3.8);

		// ticks point inwards on all four sides
		const tickLength = -33;
		const axes = [
			{ axis: d3.axisBottom(x).tickValues(zTicks), at: [0, bottom] },
			{ axis: d3.axisTop(x).tickValues(zTicks), at: [0, top] },
			{ axis: d3.axisLeft(y).tickValues(yTicks), at: [left, 0] },
			{ axis: d3.axisRight(y).tickValues(yTicks), at: [right, 0] },
		];
		axes.forEach(({ axis, at }) => {
			const g = svg.append("g")
				.attr("transform", `translate(${at[0]},${at[1]})`)
				.call(axis.tickSize(tickLength).tickFormat(() => ""));
			g.select(".domain").remove();
			g.selectAll("line").attr("stroke", "#000").attr("stroke-width", 4);
		});

		svg.append("rect")
			.attr("x", left)
			.attr("y", top)
			.attr("width", right - left)
			.attr("height", bottom - top)
			.attr("fill", "none")
			.attr("stroke", "#000")
			.attr("stroke-width", 8.5);

		// the minus sign of the reference is wider than the one in the font
		const writeTick = (sel, d: number) => {
			if (d < 0) {
				sel.append("tspan").attr("font-size", 88).attr("dy", 3).text("\u2212");
				sel.append("tspan").attr("dy", -3).attr("dx", 5).text(String(-d));
			} else {
				sel.append("tspan").text(String(d));
			}
		};

		svg.append("g")
			.selectAll("text")
			.data(zTicks)
			.enter()
			.append("text")
			.attr("x", (d) => x(d) - (d < 0 ? 4 : 2))
			.attr("y", (d) => (d < 0 ? 1409 : 1403))
			.attr("text-anchor", "middle")
			.attr("font-family", fontFamily)
			.attr("font-size", tickFont)
			.each(function (d) {
				writeTick(d3.select(this), d);
			});

		svg.append("g")
			.selectAll("text")
			.data(yTicks)
			.enter()
			.append("text")
			.attr("x", 241)
			.attr("y", (d) => y(d) + (d < 0 ? 24 : d === 0 ? 20 : 18))
			.attr("text-anchor", "end")
			.attr("font-family", fontFamily)
			.attr("font-size", tickFont)
			.each(function (d) {
				writeTick(d3.select(this), d);
			});

		svg.append("text")
			.attr("x", 1133)
			.attr("y", 112)
			.attr("text-anchor", "middle")
			.attr("font-family", fontFamily)
			.attr("font-size", 89)
			.text(titleText);

		const xLabel = svg.append("text")
			.attr("x", 1136)
			.attr("y", 1514)
			.attr("text-anchor", "middle")
			.attr("font-family", fontFamily)
			.attr("font-size", 74);
		xLabel.append("tspan").attr("font-style", "italic").text("z");
		xLabel.append("tspan").text(" [mm]");

		const yLabel = svg.append("text")
			.attr("transform", "translate(57,738) rotate(-90)")
			.attr("text-anchor", "middle")
			.attr("font-family", fontFamily)
			.attr("font-size", 74);
		yLabel.append("tspan").attr("font-style", "italic").text("y");
		yLabel.append("tspan").text(" [mm]");

		return () => {
			svg.selectAll("*").remove();
		};
	}, []);

	return (
		<svg
			ref={svgRef}
			width={2007}
			height={1535}
			style={{ position: "absolute", left: 0, top: 0, background: "#fff" }}
		/>
	);
}
